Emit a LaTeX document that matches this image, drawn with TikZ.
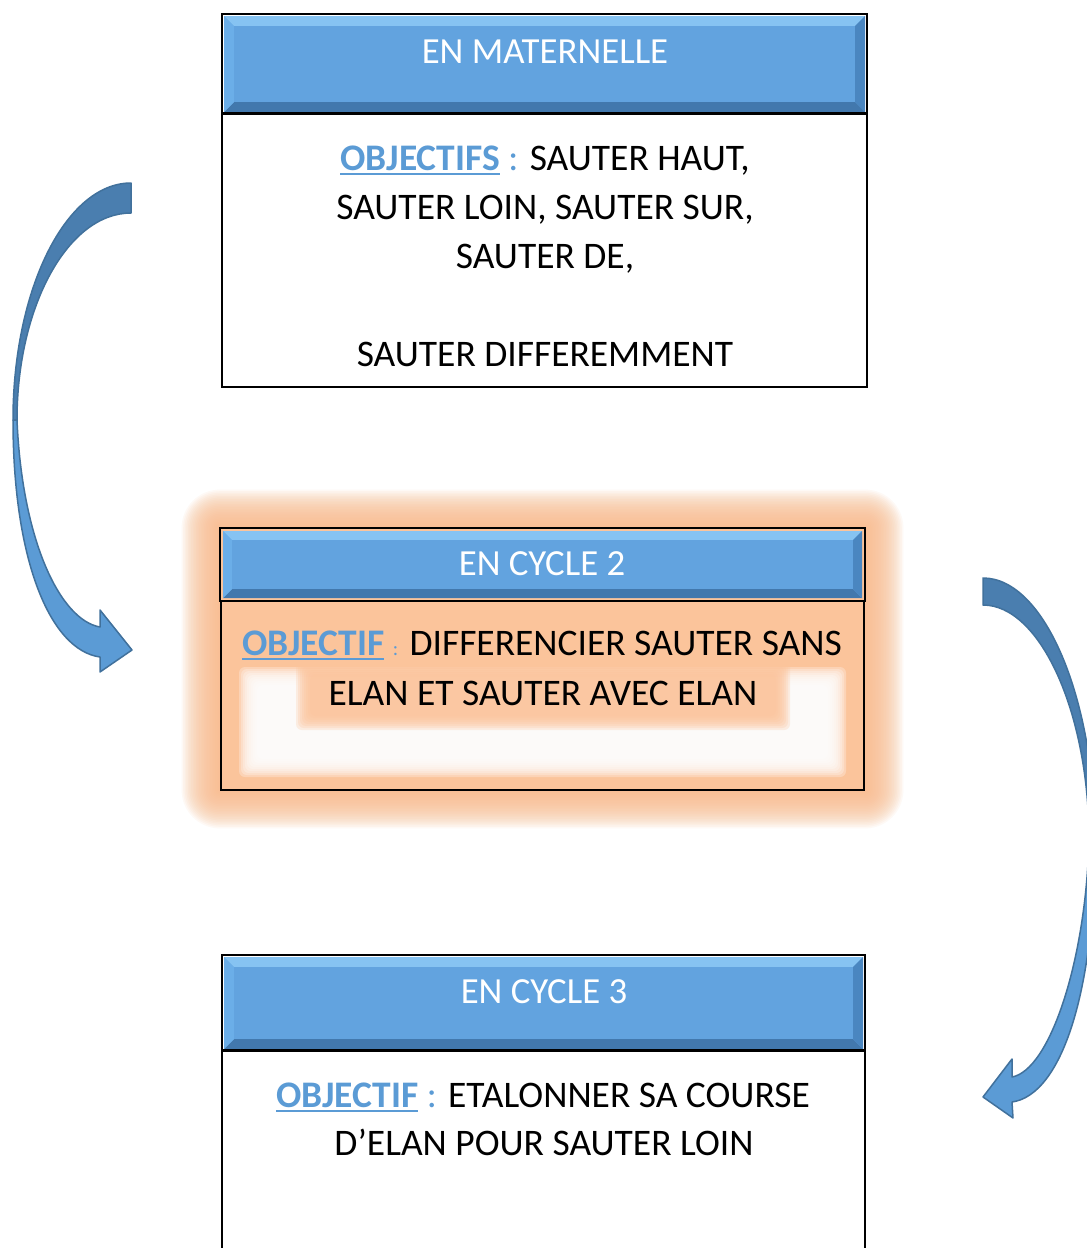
\documentclass[tikz,border=0pt]{standalone}
\usepackage{fontspec}
\setmainfont{Carlito}
\definecolor{hdr}{HTML}{62A3DF}
\definecolor{hdrlight}{HTML}{86C3F2}
\definecolor{hdrdark}{HTML}{4278AD}
\definecolor{hdrleft}{HTML}{6BAEE8}
\definecolor{hdrright}{HTML}{4A86C0}
\definecolor{objblue}{HTML}{5B9BD5}
\definecolor{peach}{HTML}{FBC49B}
\definecolor{glowc}{HTML}{F9BC8E}
\definecolor{arrdark}{HTML}{4A7EAF}
\definecolor{arrlight}{HTML}{5B9BD5}
\definecolor{arrline}{HTML}{41719C}
\newcommand{\obj}[1]{\textcolor{objblue}{\bfseries\setbox0\hbox{#1}\rlap{\rule[-5pt]{\wd0}{2pt}}\box0}}
\newcommand{\hdrbox}[5]{%
  \fill[hdr] (#1,#2) rectangle (#3,#4);
  \fill[hdrlight] (#1,#2) -- (#3,#2) -- ({#3-#5},{#2+#5}) -- ({#1+#5},{#2+#5}) -- cycle;
  \fill[hdrdark] (#1,#4) -- (#3,#4) -- ({#3-#5},{#4-#5}) -- ({#1+#5},{#4-#5}) -- cycle;
  \fill[hdrleft] (#1,#2) -- ({#1+#5},{#2+#5}) -- ({#1+#5},{#4-#5}) -- (#1,#4) -- cycle;
  \fill[hdrright] (#3,#2) -- ({#3-#5},{#2+#5}) -- ({#3-#5},{#4-#5}) -- (#3,#4) -- cycle;
  \fill[hdr] ({#1+#5},{#2+#5}) rectangle ({#3-#5},{#4-#5});
}
\tikzset{
  frame/.style={draw=black, line width=2pt},
  hdrtext/.style={anchor=base, text=white, inner sep=0pt, font=\fontsize{36.8}{44}\selectfont},
  bodytext/.style={anchor=base, text=black, inner sep=0pt, font=\fontsize{37.5}{44}\selectfont},
  arrowdark/.style={fill=arrdark, draw=arrline, line width=1.5pt, line join=round},
  arrowlight/.style={fill=arrlight, draw=arrline, line width=1.5pt, line join=round},
}
\begin{document}
\begin{tikzpicture}[x=1pt,y=-1pt]
\useasboundingbox (0,0) rectangle (1087,1248);
\fill[white] (0,0) rectangle (1087,1248);

% ---------- top box ----------
\fill[white] (222,14) rectangle (867,387);
\hdrbox{224}{16}{865}{112}{10}
\draw[frame] (222,14) rectangle (867,387);
\draw[black, line width=3pt] (222,113) -- (867,113);
\node[hdrtext] (h1) at (545,63) {EN MATERNELLE};
\node[bodytext] (t1a) at (545,170) {\obj{OBJECTIFS} \textcolor{objblue}{:} SAUTER HAUT,};
\node[bodytext] (t1b) at (545,219) {SAUTER LOIN, SAUTER SUR,};
\node[bodytext] (t1c) at (545,268) {SAUTER DE,};
\node[bodytext] (t1d) at (545,366) {SAUTER DIFFEREMMENT};

% ---------- middle box with glow ----------
\foreach \i in {1,...,24}
  \fill[glowc, opacity=0.085, rounded corners={1.6*\i}]
    ({220-1.6*\i},{528-1.6*\i}) rectangle ({865+1.6*\i},{790+1.6*\i});
\fill[peach] (220,528) rectangle (865,790);
\foreach \i in {0,...,9}
  \fill[white, opacity=0.27, rounded corners=6pt]
    ({239+2*\i},{667+2*\i}) rectangle ({846-2*\i},{777-2*\i});
\foreach \i in {0,...,7}
  \fill[peach, opacity=0.25, rounded corners=6pt]
    ({296+2*\i},{660+2*\i}) rectangle ({790-2*\i},{730-2*\i});
\hdrbox{223}{531}{862}{598}{9}
\draw[frame] (220,528) rectangle (865,601);
\draw[frame] (221,601) rectangle (864,790);
\node[hdrtext] (h2) at (542,575) {EN CYCLE 2};
\node[bodytext] (t2a) at (542,655) {\obj{OBJECTIF} {\fontsize{20}{24}\selectfont\textcolor{objblue}{:}} DIFFERENCIER SAUTER SANS};
\node[bodytext] (t2b) at (543,705) {ELAN ET SAUTER AVEC ELAN};

% ---------- bottom box ----------
\fill[white] (222,955) rectangle (865,1262);
\hdrbox{224}{957}{863}{1049}{10}
\draw[frame] (222,955) rectangle (865,1262);
\draw[black, line width=3pt] (222,1050) -- (865,1050);
\node[hdrtext] (h3) at (544,1003) {EN CYCLE 3};
\node[bodytext] (t3a) at (543,1107) {\obj{OBJECTIF} \textcolor{objblue}{:} ETALONNER SA COURSE};
\node[bodytext] (t3b) at (544,1155) {D’ELAN POUR SAUTER LOIN};

% ---------- left curved arrow ----------
\path[arrowdark] (131,183) .. controls (66,183) and (13,289) .. (13,420)
  -- (17,420) .. controls (17,306) and (68,213) .. (131,213) -- cycle;
\path[arrowlight] (13,420) .. controls (13,560) and (50,650) .. (100,657)
  -- (100,672) -- (132,650) -- (100,610) -- (100,627)
  .. controls (60,620) and (22,540) .. (17,420) -- cycle;

% ---------- right curved arrow ----------
\path[arrowdark] (983,578) .. controls (1045,578) and (1095,700) .. (1095,840)
  -- (1089,840) .. controls (1089,712) and (1040,605) .. (983,605) -- cycle;
\path[arrowlight] (1095,840) .. controls (1095,990) and (1062,1095) .. (1012,1102)
  -- (1013,1118) -- (983,1097) -- (1012,1059) -- (1012,1077)
  .. controls (1050,1070) and (1086,960) .. (1089,840) -- cycle;
\end{tikzpicture}
\end{document}
